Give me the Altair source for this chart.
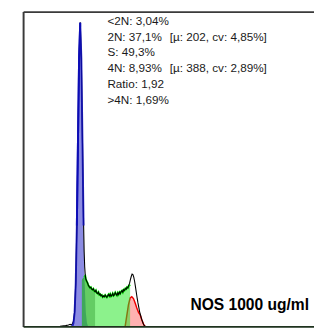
import altair as alt
import pandas as pd

# ---- data (channel, count) ----
blue_ch = [170, 174, 178, 182, 186, 190, 194, 198, 202, 206, 210, 214, 218, 222, 226, 230, 234]
blue_ct = [0, 2, 12, 46, 137, 322, 593, 855, 966, 855, 593, 322, 137, 46, 12, 2, 0]

red_ch = [362, 368, 374, 380, 386, 392, 398, 404, 410, 416, 422, 428, 434]
red_ct = [0, 35, 70, 92, 96, 90, 76, 60, 46, 38, 22, 9, 0]

black_ch = [100, 130, 150, 160, 166, 170, 174, 178, 182, 186, 190, 194, 198, 202, 206, 210,
            214, 216, 218, 220, 222, 225, 228, 231, 234, 237, 240, 243, 246, 249, 252, 255,
            258, 261, 264, 267, 270, 273, 276, 279, 282, 285, 288, 291, 294, 297, 300, 303,
            306, 309, 312, 315, 318, 321, 324, 327, 330, 333, 336, 339, 342, 345, 348, 351,
            354, 357, 360, 363, 366, 369, 372, 375, 378, 381, 384, 387, 390, 393, 396, 399,
            402, 405, 408, 411, 414, 417, 420, 423, 426, 429, 432, 436, 440, 1036]
black_ct = [0, 2, 4, 6, 8, 6, 10, 18, 48, 140, 325, 595, 858, 968, 856, 594,
            330, 240, 190, 165, 152, 145, 140, 132, 128, 124, 126, 120, 118, 121, 114, 112,
            116, 108, 106, 110, 102, 104, 99, 101, 95, 98, 96, 101, 97, 94, 99, 103,
            98, 104, 97, 100, 106, 99, 102, 109, 104, 100, 108, 103, 110, 106, 112, 115,
            110, 118, 116, 122, 120, 126, 124, 132, 138, 150, 160, 168, 166, 158, 145, 128,
            110, 92, 76, 62, 48, 38, 28, 20, 12, 6, 3, 1, 0, 0]

green_ch = [208, 212, 216, 218, 220, 222, 225, 228, 231, 234, 237, 240, 243, 246, 249, 252, 255,
            258, 261, 264, 267, 270, 273, 276, 279, 282, 285, 288, 291, 294, 297, 300, 303,
            306, 309, 312, 315, 318, 321, 324, 327, 330, 333, 336, 339, 342, 345, 348, 351,
            354, 357, 360, 363, 366, 369, 372, 375, 378, 380]
green_ct = [150, 155, 158, 160, 162, 152, 145, 140, 132, 128, 124, 126, 120, 118, 121, 114, 112,
            116, 108, 106, 110, 102, 104, 99, 101, 95, 98, 96, 101, 97, 94, 99, 103,
            98, 104, 97, 100, 106, 99, 102, 109, 104, 100, 108, 103, 110, 106, 112, 115,
            110, 118, 116, 122, 120, 126, 124, 130, 132, 134]

dark_green_end = 256

stats_lines = ["<2N: 3,04%", "2N: 37,1%", "S: 49,3%", "4N: 8,93%", "Ratio: 1,92", ">4N: 1,69%"]
peak_notes = {1: "[µ: 202, cv: 4,85%]", 3: "[µ: 388, cv: 2,89%]"}
sample_label = "NOS 1000 ug/ml"

W, H = 298, 323
xs = alt.Scale(domain=[0, 1036], nice=False, zero=False)
ys = alt.Scale(domain=[0, 1000], nice=False)

blue = pd.DataFrame({"ch": blue_ch, "ct": blue_ct})
red = pd.DataFrame({"ch": red_ch, "ct": red_ct})
black = pd.DataFrame({"ch": black_ch, "ct": black_ct})
green = pd.DataFrame({"ch": green_ch, "ct": green_ct})


def X():
    return alt.X("ch:Q", scale=xs, axis=None)


def Y():
    return alt.Y("ct:Q", scale=ys, axis=None)


layers = []
layers.append(alt.Chart(blue).mark_area(color="#0000c0", opacity=0.45, clip=True).encode(x=X(), y=Y()))
layers.append(alt.Chart(red).mark_area(color="#ff2020", opacity=0.35, clip=True).encode(x=X(), y=Y()))
layers.append(alt.Chart(red).mark_line(color="#ee0000", strokeWidth=1.5, clip=True).encode(x=X(), y=Y()))
layers.append(alt.Chart(green).mark_area(color="#22e622", opacity=0.52, clip=True).encode(x=X(), y=Y()))
layers.append(alt.Chart(green).transform_filter(alt.datum.ch <= dark_green_end)
              .mark_area(color="#118011", opacity=0.33, clip=True).encode(x=X(), y=Y()))
layers.append(alt.Chart(green).transform_filter(alt.datum.ch >= 216)
              .mark_line(color="#00e600", strokeWidth=2, clip=True).encode(x=X(), y=Y()))
layers.append(alt.Chart(black).mark_line(color="#000000", strokeWidth=1.1, clip=True).encode(x=X(), y=Y()))
layers.append(alt.Chart(blue).transform_filter(alt.datum.ct >= 150)
              .mark_line(color="#0c0cb8", strokeWidth=2, opacity=0.85, clip=True).encode(x=X(), y=Y()))
layers.append(alt.Chart(blue).transform_filter(alt.datum.ch <= 202)
              .mark_line(color="#0c0cb8", strokeWidth=2, opacity=0.85, clip=True).encode(x=X(), y=Y()))

# frame
layers.append(alt.Chart(pd.DataFrame({"a": [0]})).mark_rule(color="#3a3a3a", strokeWidth=2)
              .encode(x=alt.value(0), x2=alt.value(W), y=alt.value(0)))
layers.append(alt.Chart(pd.DataFrame({"a": [0]})).mark_rule(color="#3a3a3a", strokeWidth=2)
              .encode(x=alt.value(0), y=alt.value(0), y2=alt.value(H)))
layers.append(alt.Chart(pd.DataFrame({"a": [0]})).mark_rule(color="#1e321e", strokeWidth=2)
              .encode(x=alt.value(0), x2=alt.value(W), y=alt.value(H)))

# stats text
for i, s in enumerate(stats_lines):
    layers.append(alt.Chart(pd.DataFrame({"t": [s]})).mark_text(
        align="left", baseline="middle", font="Liberation Sans", fontSize=12, color="#1a1a1a"
    ).encode(x=alt.value(86), y=alt.value(9 + i * 16.2), text="t:N"))
for i, s in peak_notes.items():
    layers.append(alt.Chart(pd.DataFrame({"t": [s]})).mark_text(
        align="left", baseline="middle", font="Liberation Sans", fontSize=12, color="#1a1a1a"
    ).encode(x=alt.value(150), y=alt.value(9 + i * 16.2), text="t:N"))

layers.append(alt.Chart(pd.DataFrame({"t": [sample_label]})).mark_text(
    align="center", baseline="middle", font="Liberation Sans Narrow, Liberation Sans", fontSize=16,
    fontWeight="bold", color="#000000"
).encode(x=alt.value(232), y=alt.value(301), text="t:N"))

chart = alt.layer(*layers).properties(
    width=W, height=H,
    padding={"left": 16, "top": 0, "right": 0, "bottom": 0},
    autosize=alt.AutoSizeParams(type="none"),
).configure_view(stroke=None)

chart.save("out.html", embed_options={"renderer": "svg", "actions": False})
